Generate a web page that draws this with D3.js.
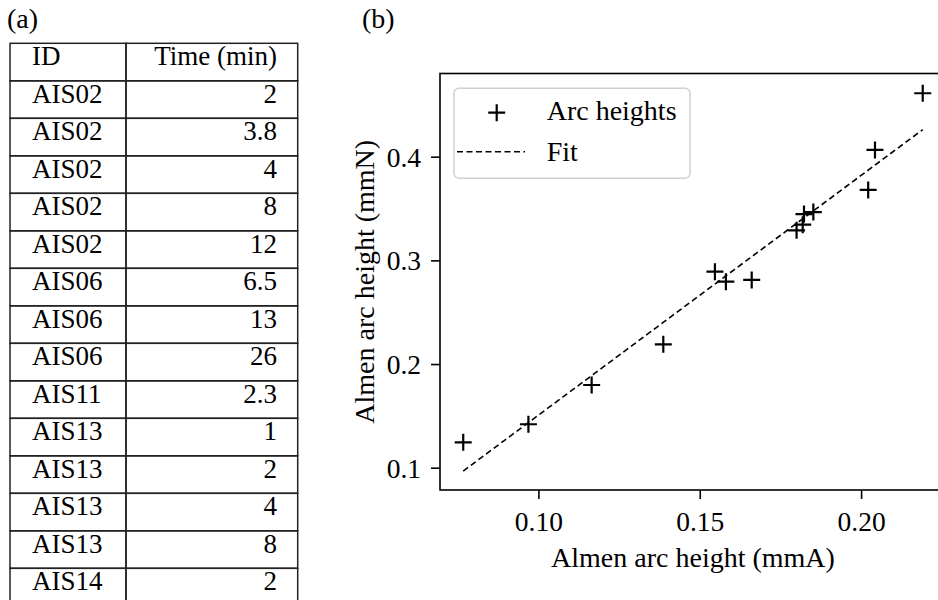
<!DOCTYPE html>
<html>
<head>
<meta charset="utf-8">
<script src="https://cdn.jsdelivr.net/npm/d3@7"></script>
<style>
  html, body { margin: 0; padding: 0; background: #fff; }
  svg { display: block; }
  text { font-family: "Liberation Serif", "Times New Roman", serif; fill: #000; }
</style>
</head>
<body>
<svg id="chart" width="938" height="600"></svg>
<script>
// ---------- data ----------
const tableHeader = ["ID", "Time (min)"];
const sampleIds = ["AIS02","AIS02","AIS02","AIS02","AIS02","AIS06","AIS06","AIS06","AIS11","AIS13","AIS13","AIS13","AIS13","AIS14"];
const sampleTimes = ["2","3.8","4","8","12","6.5","13","26","2.3","1","2","4","8","2"];

const arcA = [0.0767, 0.0969, 0.1165, 0.1387, 0.1547, 0.1581, 0.1661, 0.1800, 0.1819, 0.1823, 0.1852, 0.2022, 0.2043, 0.2191];
const arcN = [0.1245, 0.1419, 0.1798, 0.2190, 0.2891, 0.2794, 0.2811, 0.3290, 0.3344, 0.3447, 0.3466, 0.3679, 0.4065, 0.4612];

const fitX = [0.0767, 0.2191];
const fitY = [0.0968, 0.4261];

const xTicks = [0.10, 0.15, 0.20];
const yTicks = [0.1, 0.2, 0.3, 0.4];

const xDomain = [0.0695, 0.2260];
const yDomain = [0.0785, 0.48025];

const xLabel = "Almen arc height (mmA)";
const yLabel = "Almen arc height (mmN)";
const legendLabels = ["Arc heights", "Fit"];
const panelLabels = ["(a)", "(b)"];

// ---------- style ----------
const FS = 27.5;     // font size (plot)
const LFS = 28;      // axis label font size
const TFS = 27;      // font size (table)
const svg = d3.select("#chart");

function stext(g, str, x, y, anchor, size) {
  return g.append("text")
    .attr("x", x).attr("y", y)
    .attr("text-anchor", anchor || "start")
    .style("font-size", (size || FS) + "px")
    .text(str);
}

// ---------- panel labels ----------
stext(svg, panelLabels[0], 7, 28, "start", LFS);
stext(svg, panelLabels[1], 362, 28, "start", LFS);

// ---------- table ----------
const tL = 10, tDiv = 126, tR = 297.7, tTop = 43.3, rowH = 37.5;
const tg = svg.append("g");
const rows = [tableHeader].concat(sampleIds.map((id, i) => [id, sampleTimes[i]]));
rows.forEach((r, i) => {
  const y0 = tTop + i * rowH;
  tg.append("rect").attr("x", tL).attr("y", y0).attr("width", tDiv - tL).attr("height", rowH)
    .attr("fill", "none").attr("stroke", "#222").attr("stroke-width", 1.5);
  tg.append("rect").attr("x", tDiv).attr("y", y0).attr("width", tR - tDiv).attr("height", rowH)
    .attr("fill", "none").attr("stroke", "#222").attr("stroke-width", 1.5);
  stext(tg, r[0], 32, y0 + 22, "start", TFS);
  stext(tg, r[1], 277, y0 + 22, "end", TFS);
});

// ---------- scatter ----------
const pL = 440, pR = 945, pT = 73.5, pB = 490;
const x = d3.scaleLinear().domain(xDomain).range([pL, pR]);
const y = d3.scaleLinear().domain(yDomain).range([pB, pT]);

const plot = svg.append("g");

// axes (ticks)
const xa = plot.append("g").attr("transform", `translate(0,${pB})`)
  .call(d3.axisBottom(x).tickValues(xTicks).tickFormat(d3.format(".2f")).tickSize(9).tickPadding(0));
xa.attr("font-family", null).attr("font-size", null);
xa.select(".domain").remove();
xa.selectAll(".tick line").attr("stroke", "#000").attr("stroke-width", 1.6);
xa.selectAll(".tick text")
  .attr("dy", null).attr("y", 41)
  .attr("text-anchor", "middle")
  .style("font-size", FS + "px")
  .attr("fill", "#000");

const ya = plot.append("g").attr("transform", `translate(${pL},0)`)
  .call(d3.axisLeft(y).tickValues(yTicks).tickFormat(d3.format(".1f")).tickSize(9).tickPadding(0));
ya.attr("font-family", null).attr("font-size", null);
ya.select(".domain").remove();
ya.selectAll(".tick line").attr("stroke", "#000").attr("stroke-width", 1.6);
ya.selectAll(".tick text")
  .attr("dy", null).attr("x", -19).attr("y", 9.4)
  .attr("text-anchor", "end")
  .style("font-size", FS + "px")
  .attr("fill", "#000");

// fit line
plot.append("path")
  .datum(fitX.map((v, i) => [v, fitY[i]]))
  .attr("d", d3.line().x(d => x(d[0])).y(d => y(d[1])))
  .attr("fill", "none").attr("stroke", "#000").attr("stroke-width", 1.6)
  .attr("stroke-dasharray", "6,3.5");

// markers
const arm = 8.5;
const plus = (cx, cy) => `M${cx - arm},${cy}H${cx + arm}M${cx},${cy - arm}V${cy + arm}`;
plot.selectAll("path.pt").data(arcA.map((v, i) => [v, arcN[i]])).enter()
  .append("path").attr("class", "pt")
  .attr("d", d => plus(x(d[0]), y(d[1])))
  .attr("stroke", "#000").attr("stroke-width", 2.2).attr("fill", "none");

// spines
plot.append("rect").attr("x", pL).attr("y", pT).attr("width", pR - pL).attr("height", pB - pT)
  .attr("fill", "none").attr("stroke", "#000").attr("stroke-width", 1.6);

// axis labels
stext(plot, xLabel, 693, 567, "middle", LFS);
plot.append("text")
  .attr("transform", `translate(374,${(pT + pB) / 2}) rotate(-90)`)
  .attr("text-anchor", "middle")
  .style("font-size", LFS + "px")
  .text(yLabel);

// legend
const lg = plot.append("g");
lg.append("rect").attr("x", 454).attr("y", 88.3).attr("width", 236).attr("height", 90).attr("rx", 5)
  .attr("fill", "#fff").attr("fill-opacity", 0.8).attr("stroke", "#d0d0d0").attr("stroke-width", 1.5);
lg.append("path").attr("d", plus(496.7, 112.7)).attr("stroke", "#000").attr("stroke-width", 2.2);
lg.append("line").attr("x1", 457).attr("x2", 525).attr("y1", 151.7).attr("y2", 151.7)
  .attr("stroke", "#000").attr("stroke-width", 1.6).attr("stroke-dasharray", "6,3.5");
stext(lg, legendLabels[0], 546.7, 120, "start", LFS);
stext(lg, legendLabels[1], 546.7, 161, "start", LFS);
</script>
</body>
</html>
